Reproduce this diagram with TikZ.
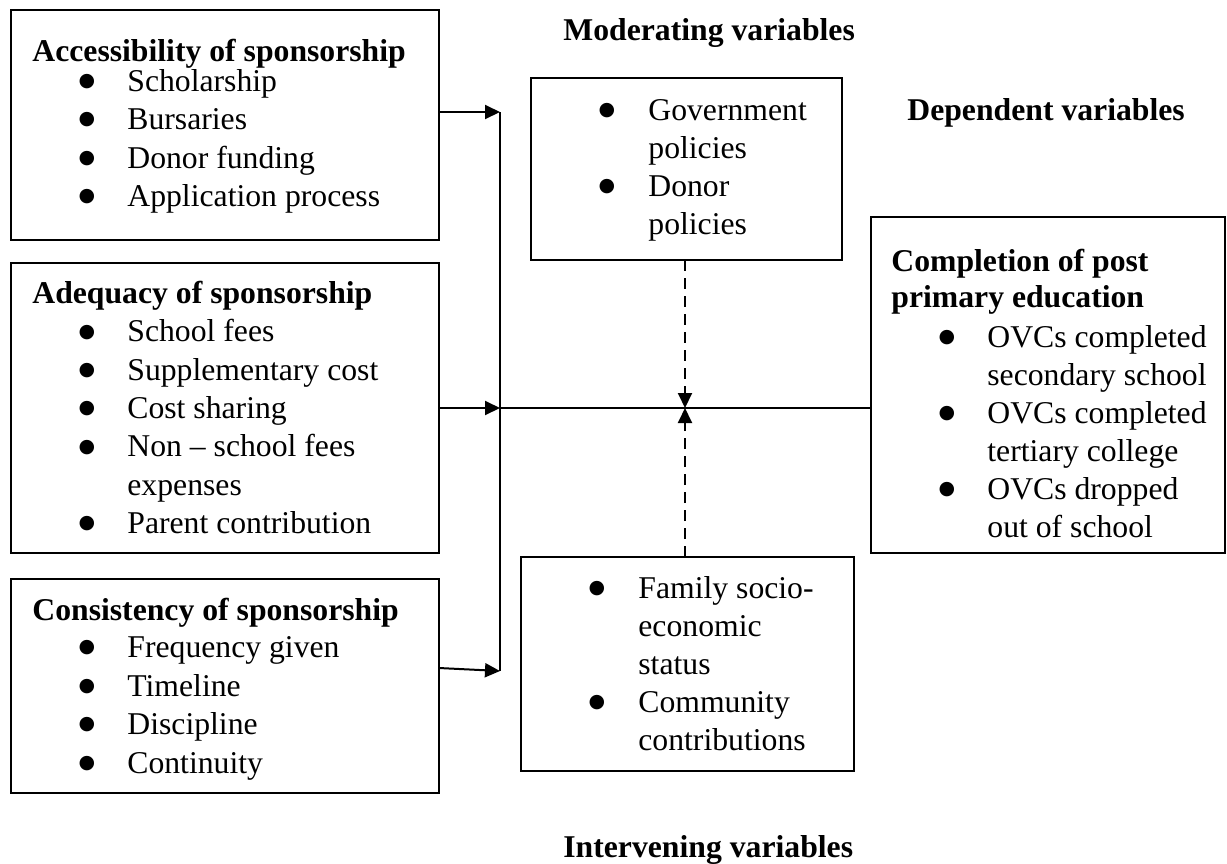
\documentclass[tikz,border=0pt]{standalone}
\usepackage{fontspec}
\setmainfont{Liberation Serif}
\newfontfamily\symfont{DejaVu Sans}
\usetikzlibrary{arrows.meta}
\newcommand\fs{\fontsize{15.85pt}{19pt}\selectfont}
\newcommand\bmark{\raisebox{2.3pt}{\symfont\fontsize{9.5pt}{10pt}\selectfont ●}}
\begin{document}
\begin{tikzpicture}[x=0.5pt,y=-0.5pt,
  box/.style={draw, line width=1pt, inner sep=0, outer sep=0, anchor=north west},
  txt/.style={anchor=base west, inner sep=0, font=\fs},
  ttl/.style={anchor=base west, inner sep=0, font=\fs\bfseries},
  bul/.style={anchor=base, inner sep=0},
  conn/.style={line width=1pt},
  arr/.style={line width=1pt, -{Triangle[length=7.5pt,width=7pt]}},
  dsh/.style={line width=1pt, dash pattern=on 5.5pt off 3.5pt, -{Triangle[length=7.5pt,width=7pt]}}]
\useasboundingbox (0,0) rectangle (1227,863);
% boxes
\node[box, minimum width=214pt, minimum height=115pt] (acc) at (11,10) {};
\node[box, minimum width=214pt, minimum height=145pt] (adq) at (11,263) {};
\node[box, minimum width=214pt, minimum height=107pt] (con) at (11,579) {};
\node[box, minimum width=155.5pt, minimum height=91pt] (mod) at (531,78) {};
\node[box, minimum width=166.5pt, minimum height=107pt] (int) at (521,557) {};
\node[box, minimum width=177pt, minimum height=168pt] (dep) at (871,217) {};
% junctions
\coordinate (j1) at (500,112);
\coordinate (j2) at (500,408);
\coordinate (j3) at (500,671);
\coordinate (m) at (685,408);
% connectors
\draw[conn] (j1) -- (j3);
\draw[conn] (j2) -- (dep.west |- j2);
\draw[arr] (acc.east |- j1) -- (j1);
\draw[arr] (adq.east |- j2) -- (j2);
\draw[arr] ([yshift=9pt]con.east) -- (j3);
\draw[dsh] (m |- mod.south) -- (m);
\draw[dsh] (m |- int.north) -- (m);
% headings
\node[ttl] (tm) at (563,40) {Moderating variables};
\node[ttl] (td) at (907,120) {Dependent variables};
\node[ttl] (ti) at (563,857) {Intervening variables};
% accessibility
\node[ttl] (a0) at (32,61) {Accessibility of sponsorship};
\node[bul] (ab1) at (87,91) {\bmark};
\node[txt] (a1) at (127,91) {Scholarship};
\node[bul] (ab2) at (87,129.5) {\bmark};
\node[txt] (a2) at (127,129.5) {Bursaries};
\node[bul] (ab3) at (87,168) {\bmark};
\node[txt] (a3) at (127,168) {Donor funding};
\node[bul] (ab4) at (87,206.5) {\bmark};
\node[txt] (a4) at (127,206.5) {Application process};
% adequacy
\node[ttl] (d0) at (32,303) {Adequacy of sponsorship};
\node[bul] (db1) at (87,341.7) {\bmark};
\node[txt] (d1) at (127,341.7) {School fees};
\node[bul] (db2) at (87,380) {\bmark};
\node[txt] (d2) at (127,380) {Supplementary cost};
\node[bul] (db3) at (87,418.3) {\bmark};
\node[txt] (d3) at (127,418.3) {Cost sharing};
\node[bul] (db4) at (87,456.7) {\bmark};
\node[txt] (d4) at (127,456.7) {Non – school fees};
\node[txt] (d5) at (127,495) {expenses};
\node[bul] (db6) at (87,533.3) {\bmark};
\node[txt] (d6) at (127,533.3) {Parent contribution};
% consistency
\node[ttl] (c0) at (32,620) {Consistency of sponsorship};
\node[bul] (cb1) at (87,657.5) {\bmark};
\node[txt] (c1) at (127,657.5) {Frequency given};
\node[bul] (cb2) at (87,696) {\bmark};
\node[txt] (c2) at (127,696) {Timeline};
\node[bul] (cb3) at (87,734.5) {\bmark};
\node[txt] (c3) at (127,734.5) {Discipline};
\node[bul] (cb4) at (87,773) {\bmark};
\node[txt] (c4) at (127,773) {Continuity};
% moderating
\node[bul] (mb1) at (607,120) {\bmark};
\node[txt] (m1) at (648,120) {Government};
\node[txt] (m2) at (648,158) {policies};
\node[bul] (mb3) at (607,196) {\bmark};
\node[txt] (m3) at (648,196) {Donor};
\node[txt] (m4) at (648,234) {policies};
% intervening
\node[bul] (ib1) at (597,598) {\bmark};
\node[txt] (i1) at (638,598) {Family socio-};
\node[txt] (i2) at (638,636) {economic};
\node[txt] (i3) at (638,674) {status};
\node[bul] (ib4) at (597,712) {\bmark};
\node[txt] (i4) at (638,712) {Community};
\node[txt] (i5) at (638,750) {contributions};
% dependent
\node[ttl] (e0) at (891,271) {Completion of post};
\node[ttl] (e1) at (891,307) {primary education};
\node[bul] (eb2) at (947,347) {\bmark};
\node[txt] (e2) at (987,347) {OVCs completed};
\node[txt] (e3) at (987,385) {secondary school};
\node[bul] (eb4) at (947,423) {\bmark};
\node[txt] (e4) at (987,423) {OVCs completed};
\node[txt] (e5) at (987,461) {tertiary college};
\node[bul] (eb6) at (947,499) {\bmark};
\node[txt] (e6) at (987,499) {OVCs dropped};
\node[txt] (e7) at (987,537) {out of school};
\end{tikzpicture}
\end{document}
